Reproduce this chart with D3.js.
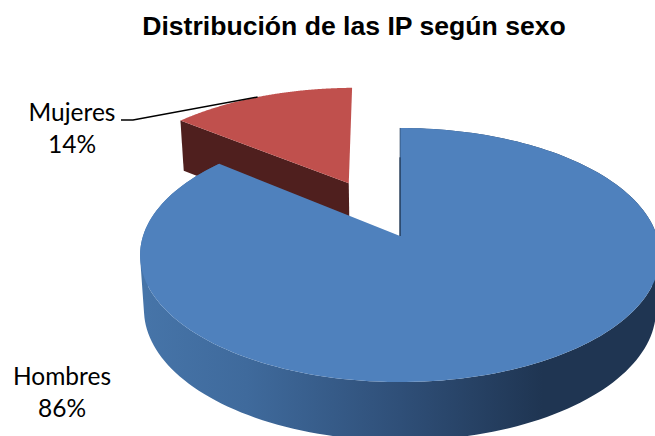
<!DOCTYPE html>
<html><head><meta charset="utf-8">
<script src="https://cdn.jsdelivr.net/npm/d3@7"></script>
<style>html,body{margin:0;padding:0;background:#fff}svg{display:block}</style>
</head><body><div id="c"></div>
<script>
const categories = ["Mujeres", "Hombres"];
const values = [14, 86];
const percentLabels = ["14%", "86%"];
const topColors = ["#C0504D", "#4F81BD"];
const title = "Distribución de las IP según sexo";
const W = 655, H = 436;
const svg = d3.select("#c").append("svg").attr("width", W).attr("height", H);
const defs = svg.append("defs");
const grad = defs.append("linearGradient").attr("id", "wall").attr("gradientUnits", "userSpaceOnUse")
  .attr("x1", 145).attr("x2", 655).attr("y1", 0).attr("y2", 0);
[[0, "#4674A8"], [0.2, "#3F6A9C"], [0.5, "#2F4F78"], [0.78, "#1F3552"], [1, "#1F3552"]]
  .forEach(([o, c]) => grad.append("stop").attr("offset", o).attr("stop-color", c));

// Perspective projection of the unit disc (u right, v towards viewer, z down)
const ox = 400, oy = 236, B = 257, A = 124.2, k = 0.1496, depth = 54;
const project = (u, v, z = 0) => {
  const w = 1 - k * v;
  return [ox + (1 - 0.015 * z) * B * u / w, oy + A * v / w + depth * z / Math.pow(w, 0.5)];
};
const pie = d3.pie().sort(null).value((d, i) => values[i])
  .startAngle(-2 * Math.PI * values[0] / 100)
  .endAngle(2 * Math.PI - 2 * Math.PI * values[0] / 100);
const arcs = pie(categories);
const line = d3.line();
const sl = (a, r, e, m, z = 0) => project(r * Math.sin(a) + e * Math.sin(m), -r * Math.cos(a) - e * Math.cos(m), z);
const arcPts = (d, e, z = 0, tilt = 0) => {
  const m = (d.startAngle + d.endAngle) / 2;
  return d3.range(0, 181).map(i => sl(d.startAngle + tilt + (d.endAngle - d.startAngle) * i / 180, 1, e, m, z));
};
const explode = [0.5, 0];
const tilt = -0.014;
const g = svg.append("g");

// Mujeres (exploded, drawn first)
{
  const d = arcs[0], e = explode[0], m = (d.startAngle + d.endAngle) / 2;
  const apex = sl(0, 0, e, m), apexB = sl(0, 0, e, m, 1);
  const L = sl(d.startAngle + tilt, 1, e, m), LB = sl(d.startAngle + tilt, 1, e, m, 1);
  g.append("path").attr("d", line([L, apex, apexB, LB]) + "Z").attr("fill", "#4F1F1E");
  g.append("path").attr("d", line([apex, ...arcPts(d, e, 0, tilt)]) + "Z").attr("fill", topColors[0]);
}
// Hombres
{
  const d = arcs[1];
  const top = arcPts(d, 0), low = arcPts(d, 0, 1);
  // one path of consistently wound quads, so the side wall has no seams
  const wall = d3.range(top.length - 1).map(i => {
    const q = [top[i], top[i + 1], low[i + 1], low[i]];
    return line(d3.polygonArea(q) < 0 ? q.reverse() : q) + "Z";
  }).join("");
  g.append("path").attr("d", wall).attr("fill", "url(#wall)").attr("fill-rule", "nonzero");
  const apex = sl(0, 0, 0, 0);
  g.append("path").attr("d", line([apex, ...top]) + "Z").attr("fill", topColors[1]);
  g.append("path").attr("d", line([sl(d.startAngle, 0.7, 0, 0), apex]))
    .attr("stroke", "#1F3552").attr("stroke-width", 1.4).attr("fill", "none");
  g.append("path").attr("d", line([sl(d.startAngle, 1, 0, 0), sl(d.startAngle, 0.7, 0, 0)]))
    .attr("stroke", "#1F3552").attr("stroke-width", 0.6).attr("fill", "none");
}
// Leader
{
  const d = arcs[0], m = (d.startAngle + d.endAngle) / 2;
  const end = sl(m - 0.03, 1, explode[0], m);
  g.append("path").attr("d", line([[121, 120], [133, 120], end]))
    .attr("fill", "none").attr("stroke", "#000").attr("stroke-width", 1.5);
}
// Text
svg.append("text").attr("x", 354).attr("y", 35).attr("text-anchor", "middle")
  .attr("font-family", "Liberation Sans").attr("font-weight", "bold").attr("font-size", 26.6)
  .attr("fill", "#000").text(title);
const labelPos = [[72, 121, 153], [62, 385, 417]];
categories.forEach((c, i) => {
  const t = svg.append("g").attr("font-family", "Lato").attr("font-size", 24.5)
    .attr("text-anchor", "middle").attr("fill", "#000");
  t.append("text").attr("x", labelPos[i][0]).attr("y", labelPos[i][1]).text(c);
  t.append("text").attr("x", labelPos[i][0]).attr("y", labelPos[i][2]).text(percentLabels[i]);
});
</script></body></html>
